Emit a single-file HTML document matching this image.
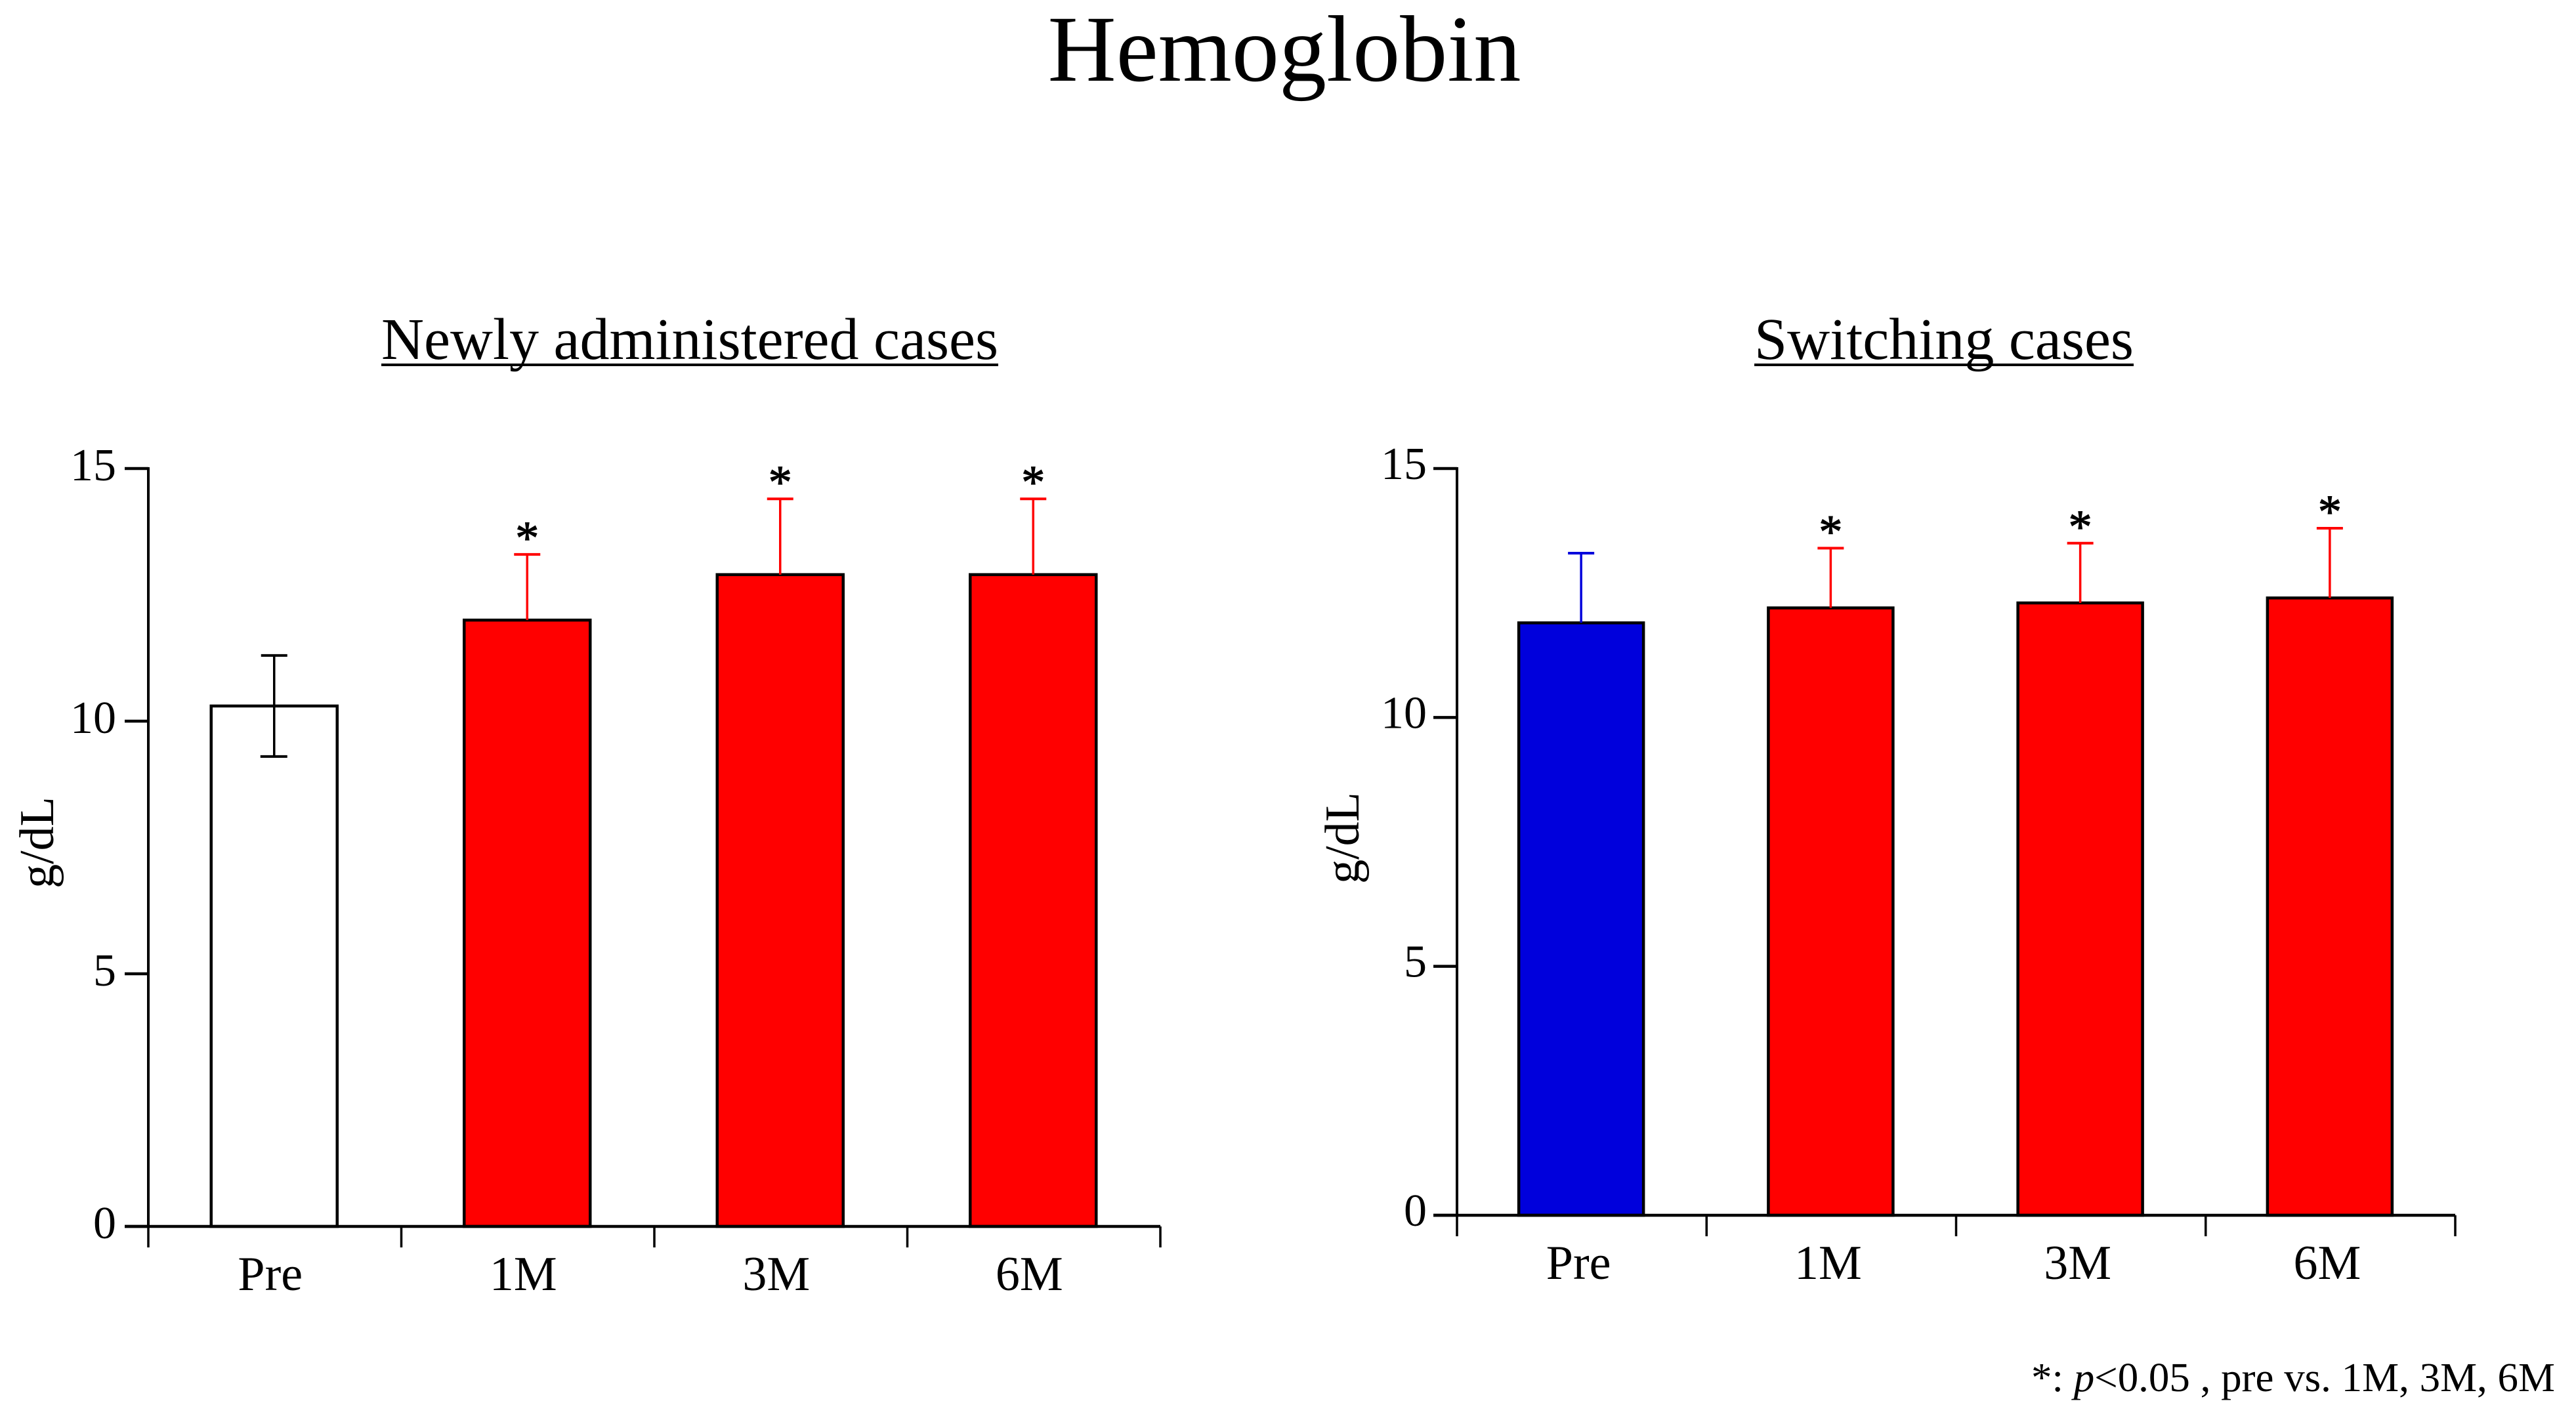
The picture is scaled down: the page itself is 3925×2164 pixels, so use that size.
<!DOCTYPE html>
<html lang="en">
<head>
<meta charset="utf-8">
<title>Hemoglobin</title>
<style>
  html, body { margin: 0; padding: 0; background: #fff; }
  svg { display: block; }
  text { font-family: "Liberation Serif", "Times New Roman", serif; fill: #000; }
</style>
</head>
<body>
<svg id="figure" xmlns="http://www.w3.org/2000/svg" width="3925" height="2164" viewBox="0 0 3925 2164">
  <rect x="0" y="0" width="3925" height="2164" fill="#fff"/>
  <text x="1957" y="123" font-size="144" text-anchor="middle" textLength="721" lengthAdjust="spacingAndGlyphs">Hemoglobin</text>
  <text x="581" y="547" font-size="90" textLength="940" lengthAdjust="spacingAndGlyphs">Newly administered cases</text>
  <rect x="581" y="554" width="940" height="4" fill="#000"/>
  <text x="2673" y="547" font-size="90" textLength="578" lengthAdjust="spacingAndGlyphs">Switching cases</text>
  <rect x="2673" y="554" width="578" height="4" fill="#000"/>
  <text x="3095" y="2120" font-size="62" textLength="798" lengthAdjust="spacingAndGlyphs">*: <tspan font-style="italic">p</tspan>&lt;0.05 , pre vs. 1M, 3M, 6M</text>
  <g id="left-chart"></g>
  <g id="right-chart"></g>
</svg>
<script>
// Shared axis values
const categories = ['Pre', '1M', '3M', '6M'];
const yTicks = [0, 5, 10, 15];

// Newly administered cases
const newlyMeans = [10.3, 12.0, 12.9, 12.9];
const newlyErrUp = [1.0, 1.3, 1.5, 1.5];
const newlyErrDown = [1.0, 0, 0, 0];
const newlySignificant = [false, true, true, true];

// Switching cases
const switchingMeans = [11.9, 12.2, 12.3, 12.4];
const switchingErrUp = [1.4, 1.2, 1.2, 1.4];
const switchingErrDown = [0, 0, 0, 0];
const switchingSignificant = [false, true, true, true];

const SVG_NS = 'http://www.w3.org/2000/svg';

function make(parent, tag, attrs, content) {
  const el = document.createElementNS(SVG_NS, tag);
  for (const key in attrs) el.setAttribute(key, attrs[key]);
  if (content !== undefined) el.textContent = content;
  parent.appendChild(el);
  return el;
}

function drawChart(root, prefix, layout, means, errUp, errDown, significant) {
  const yScale = v => layout.y0 + (layout.y15 - layout.y0) * v / 15;
  const center = i => layout.x0 + (i + 0.5) * layout.band + layout.barShift;

  // Bars
  means.forEach((value, i) => {
    const top = yScale(value);
    const bar = make(root, 'rect', {
      x: center(i) - layout.barWidth / 2,
      y: top,
      width: layout.barWidth,
      height: layout.y0 - top,
      fill: i === 0 ? layout.preFill : '#ff0000',
      stroke: '#000',
      'stroke-width': 4.5
    });
    
    
  });

  // Error bars and significance markers
  means.forEach((value, i) => {
    const color = i === 0 ? layout.preError : '#ff0000';
    const cx = center(i);
    const upper = yScale(value + errUp[i]);
    const stem = make(root, 'line', { x1: cx, x2: cx, y1: yScale(value), y2: upper, stroke: color, 'stroke-width': 3.5 });
    
    
    const cap = make(root, 'line', { x1: cx - 20, x2: cx + 20, y1: upper, y2: upper, stroke: color, 'stroke-width': 4 });
    
    
    if (errDown[i] > 0) {
      const lower = yScale(value - errDown[i]);
      const stemDown = make(root, 'line', { x1: cx, x2: cx, y1: yScale(value), y2: lower, stroke: color, 'stroke-width': 3.5 });
      
      
      const capDown = make(root, 'line', { x1: cx - 21, x2: cx + 20, y1: lower, y2: lower, stroke: color, 'stroke-width': 4 });
      
      
    }
    if (significant[i]) {
      const star = make(root, 'text', { x: cx, y: upper - 1, 'font-size': 72, 'text-anchor': 'middle', stroke: '#000', 'stroke-width': 1.2 }, '*');
      
      
    }
  });

  // Y axis
  const yAxis = make(root, 'line', { x1: layout.x0, x2: layout.x0, y1: yScale(15) - 2, y2: yScale(0), stroke: '#000', 'stroke-width': 4 });
  
  
  yTicks.forEach(t => {
    const y = yScale(t);
    const tick = make(root, 'line', { x1: layout.x0 - layout.tickLen, x2: layout.x0, y1: y, y2: y, stroke: '#000', 'stroke-width': 4.5 });
    
    
    const label = make(root, 'text', { x: layout.x0 - layout.tickLen - layout.yLabelGap, y: y + layout.yLabelShift, 'font-size': 70, 'text-anchor': 'end' }, String(t));
    
    
  });

  // X axis
  const xEnd = layout.x0 + categories.length * layout.band;
  const xAxis = make(root, 'line', { x1: layout.x0 - layout.tickLen, x2: xEnd, y1: yScale(0), y2: yScale(0), stroke: '#000', 'stroke-width': 4.5 });
  
  
  for (let i = 0; i <= categories.length; i++) {
    const x = layout.x0 + i * layout.band;
    const tick = make(root, 'line', { x1: x, x2: x, y1: yScale(0), y2: yScale(0) + 32, stroke: '#000', 'stroke-width': 3.5 });
    
    
  }
  categories.forEach((name, i) => {
    const label = make(root, 'text', { x: center(i) + layout.labelShift, y: yScale(0) + 97, 'font-size': 74, 'text-anchor': 'middle' }, name);
    
    
  });

  // Y axis title
  const title = make(root, 'text', {
    transform: 'translate(' + layout.titleX + ' ' + layout.titleY + ') rotate(-90)',
    'font-size': 74,
    'text-anchor': 'middle'
  }, 'g/dL');
  
  
}

drawChart(document.getElementById('left-chart'), 'newly', {
  x0: 226, band: 385.5, y0: 1869, y15: 714, barWidth: 192, barShift: -1, tickLen: 36,
  yLabelShift: 18, yLabelGap: 13, labelShift: -6, titleX: 81, titleY: 1284, preFill: '#ffffff', preError: '#000000'
}, newlyMeans, newlyErrUp, newlyErrDown, newlySignificant);

drawChart(document.getElementById('right-chart'), 'switching', {
  x0: 2220, band: 380.25, y0: 1852, y15: 714, barWidth: 190, barShift: -1, tickLen: 36,
  yLabelShift: 16, yLabelGap: 10, labelShift: -4, titleX: 2070, titleY: 1277, preFill: '#0000dc', preError: '#0000dc'
}, switchingMeans, switchingErrUp, switchingErrDown, switchingSignificant);
</script>
</body>
</html>
